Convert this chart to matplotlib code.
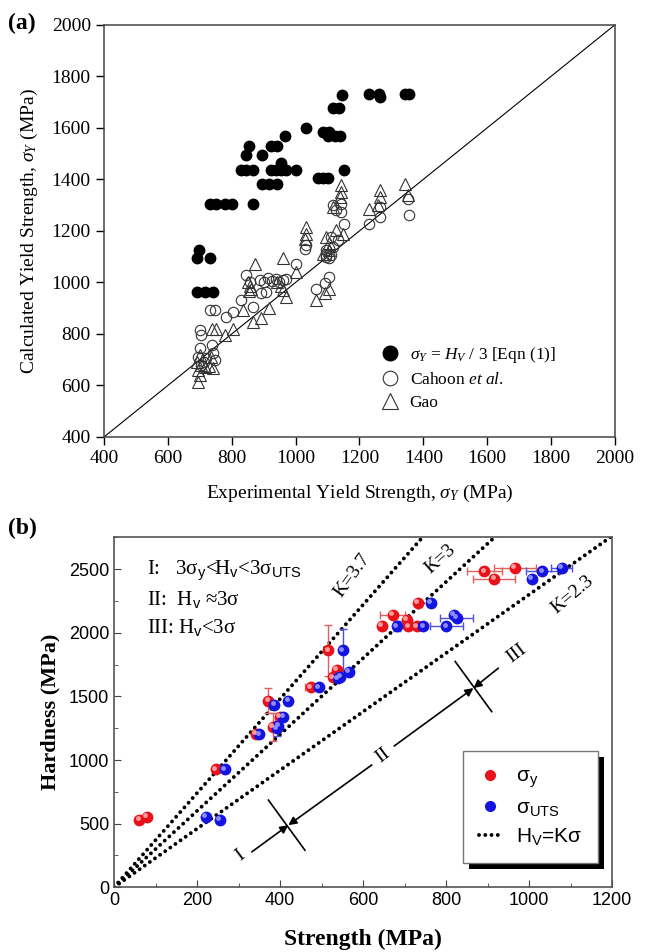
import numpy as np
import matplotlib
matplotlib.use("Agg")
import matplotlib.pyplot as plt
import matplotlib.transforms as mtransforms
from matplotlib.lines import Line2D
from matplotlib.patches import Rectangle

plt.rcParams['font.family'] = ['Liberation Serif', 'DejaVu Serif']
plt.rcParams['mathtext.fontset'] = 'custom'
plt.rcParams['mathtext.rm'] = 'Liberation Serif'
plt.rcParams['mathtext.it'] = 'Liberation Serif:italic'
plt.rcParams['mathtext.bf'] = 'Liberation Serif:bold'
plt.rcParams['mathtext.sf'] = 'Liberation Sans'

# ---- panel (a): calculated vs experimental yield strength (MPa) ----
eqn_x = [698, 691, 733, 691, 716, 742, 733, 752, 778, 802, 865, 895, 916, 943,
         830, 846, 867, 922, 940, 955, 971, 1002, 1070, 1085, 1101, 1153, 955,
         846, 896, 854, 922, 941, 966, 1033, 1085, 1104, 1101, 1122, 1140,
         1117, 1135, 1145, 1229, 1260, 1265, 1341, 1356]
eqn_y = [1127, 1096, 1096, 962, 962, 962, 1306, 1306, 1306, 1306, 1306, 1381, 1381, 1381,
         1437, 1437, 1437, 1437, 1437, 1437, 1437, 1437, 1407, 1407, 1407, 1437, 1463,
         1493, 1493, 1528, 1528, 1528, 1567, 1600, 1583, 1583, 1567, 1567, 1567,
         1678, 1678, 1726, 1732, 1732, 1719, 1732, 1732]

cahoon_x = [731, 747, 783, 804, 700, 705, 700, 737, 695, 742, 747, 712, 846, 856, 830,
            867, 888, 900, 912, 925, 937, 948, 960, 893, 908, 971, 1002, 1065, 1091,
            1106, 1096, 1111, 1117, 1127, 1143, 1143, 1153, 1111, 1132, 1117, 1096,
            1096, 1106, 1033, 1028, 1231, 1263, 1263, 1356, 1351, 720, 705]
cahoon_y = [892, 892, 866, 886, 815, 795, 744, 757, 711, 724, 698, 690, 1028, 1002, 931,
            905, 1010, 1000, 1016, 1004, 1012, 1000, 1010, 957, 963, 1015, 1073, 976, 996,
            1021, 1099, 1105, 1299, 1280, 1306, 1273, 1228, 1176, 1164, 1138, 1125,
            1105, 1093, 1144, 1131, 1228, 1254, 1293, 1260, 1325, 705, 680]

gao_x = [695, 700, 695, 690, 705, 715, 728, 740, 700, 735, 737, 752, 804, 778, 835,
         872, 851, 856, 853, 860, 867, 893, 918, 960, 1002, 960, 971, 1065, 1091,
         1106, 1033, 1033, 1028, 1143, 1143, 1138, 1117, 1096, 1106, 1127, 1148,
         1263, 1263, 1231, 1257, 1341, 1351, 1106, 1085, 943, 955]
gao_y = [614, 640, 660, 690, 680, 672, 676, 668, 720, 710, 821, 821, 821, 795, 892,
         1073, 1002, 985, 965, 975, 847, 860, 899, 1093, 1041, 970, 944, 931, 957,
         976, 1215, 1189, 1170, 1377, 1351, 1331, 1293, 1176, 1151, 1202, 1189,
         1357, 1331, 1286, 1299, 1383, 1338, 1125, 1112, 1000, 985]

# ---- panel (b): hardness vs strength (MPa) ----
ys_x = [61, 79, 246, 342, 372, 382, 400, 474, 516, 527, 537, 645, 671, 705, 709, 729, 732, 892, 916, 966]
ys_y = [528, 553, 927, 1205, 1467, 1260, 1341, 1570, 1861, 1650, 1709, 2055, 2142, 2102, 2050, 2050, 2233, 2483, 2422, 2509]
ys_xerr = [0, 0, 0, 0, 0, 0, 0, 15, 0, 0, 0, 0, 30, 0, 0, 0, 0, 42, 50, 50]
ys_yerr = [0, 0, 0, 0, 95, 110, 0, 0, 200, 0, 0, 30, 0, 0, 0, 0, 0, 0, 0, 0]

uts_x = [222, 255, 267, 350, 386, 420, 393, 408, 396, 494, 551, 540, 545, 565, 681, 745, 763, 801, 818, 826, 1006, 1032, 1079]
uts_y = [553, 528, 927, 1202, 1433, 1467, 1250, 1341, 1268, 1570, 1861, 1643, 1656, 1695, 2050, 2050, 2233, 2050, 2142, 2116, 2422, 2483, 2509]
uts_xerr = [0, 0, 0, 0, 0, 0, 0, 0, 0, 0, 0, 0, 0, 0, 0, 0, 0, 40, 0, 40, 0, 40, 25]
uts_yerr = [0, 0, 0, 0, 0, 0, 60, 0, 0, 0, 165, 0, 0, 0, 40, 0, 0, 0, 0, 0, 0, 0, 0]

k_values = [3.7, 3.0, 2.3]
k_labels = ['K=3.7', 'K=3', 'K=2.3']

fig = plt.figure(figsize=(6.46, 9.52), dpi=100)

# ================= (a) =================
ax1 = fig.add_axes([0.161, 0.541, 0.791, 0.433])
ax1.plot([400, 2000], [400, 2000], color='k', lw=0.8, zorder=1)
ax1.plot(gao_x, gao_y, '^', ms=8.5, mfc='none', mec='#333333', mew=0.8, ls='none', label='Gao', zorder=2)
ax1.plot(cahoon_x, cahoon_y, 'o', ms=7.5, mfc='none', mec='#333333', mew=0.8, ls='none',
         label=r'Cahoon $et\ al$.', zorder=3)
ax1.plot(eqn_x, eqn_y, 'o', ms=7.5, color='k', ls='none',
         label=r'$\sigma_Y$ = $H_V$ / 3 [Eqn (1)]', zorder=4)
ax1.set_xlim(400, 2000)
ax1.set_ylim(400, 2000)
ax1.set_xticks(np.arange(400, 2001, 200))
ax1.set_yticks(np.arange(400, 2001, 200))
ax1.tick_params(direction='out', length=6, width=1, labelsize=14, top=False, right=False)
for s in ax1.spines.values():
    s.set_color('#444444')
    s.set_linewidth(1.1)
ax1.set_xlabel(r'Experimental Yield Strength, $\sigma_Y$ (MPa)', fontsize=14, labelpad=11)
ax1.set_ylabel(r'Calculated Yield Strength, $\sigma_Y$ (MPa)', fontsize=14, labelpad=8)
h, l = ax1.get_legend_handles_labels()
ax1.legend(h[::-1], l[::-1], loc='upper left', bbox_to_anchor=(0.513, 0.262), frameon=False,
           fontsize=12.5, markerscale=1.4, handlelength=1.0, handletextpad=0.6, labelspacing=0.4)
fig.text(0.012, 0.975, '(a)', fontsize=17, fontweight='bold', va='center')

# ================= (b) =================
ax2 = fig.add_axes([0.1765, 0.068, 0.771, 0.3676])
ax2.set_xlim(0, 1200)
ax2.set_ylim(0, 2750)

xs = np.linspace(0, 1200, 400)
for k in k_values:
    ax2.plot(xs, k * xs, color='k', lw=2.8, ls=(0, (0.01, 1.6)), dash_capstyle='round', zorder=2)

def spheres(x, y, xerr, yerr, base, light, ecol):
    x = np.asarray(x, float)
    y = np.asarray(y, float)
    ax2.errorbar(x, y, xerr=np.asarray(xerr, float), yerr=np.asarray(yerr, float), fmt='none',
                 ecolor=ecol, elinewidth=1.0, capsize=3, capthick=1.0, zorder=3)
    ax2.plot(x, y, 'o', ms=8.5, color=base, mec='none', zorder=4)
    hl = mtransforms.offset_copy(ax2.transData, fig=fig, x=-1.2, y=1.2, units='points')
    ax2.plot(x, y, 'o', ms=3.5, color=light, mec='none', transform=hl, zorder=5)

spheres(ys_x, ys_y, ys_xerr, ys_yerr, '#e8121a', '#ff9a9a', '#e06060')
spheres(uts_x, uts_y, uts_xerr, uts_yerr, '#1414e0', '#8c8cff', '#5050e0')

ax2.set_xticks(np.arange(0, 1201, 200))
ax2.set_xticks(np.arange(0, 1201, 100), minor=True)
ax2.set_yticks(np.arange(0, 2501, 500))
ax2.set_yticks(np.arange(0, 2751, 250), minor=True)
ax2.tick_params(which='both', direction='in', top=False, right=False, color='#444444')
ax2.tick_params(which='major', length=5, labelsize=13)
ax2.tick_params(which='minor', length=3)
for lab in ax2.get_xticklabels() + ax2.get_yticklabels():
    lab.set_family(['Liberation Sans', 'DejaVu Sans'])
for s in ax2.spines.values():
    s.set_color('#555555')
    s.set_linewidth(1.2)
ax2.set_xlabel('Strength (MPa)', fontsize=17, fontweight='bold', labelpad=14)
ax2.set_ylabel('Hardness (MPa)', fontsize=16, fontweight='bold', labelpad=6)
fig.text(0.012, 0.445, '(b)', fontsize=17, fontweight='bold', va='center')

# regime descriptions
ax2.text(79, 2483, r'I:   3σ$_{\mathsf{y}}$<H$_{\mathsf{v}}$<3σ$_{\mathsf{UTS}}$', fontsize=15, va='center')
ax2.text(79, 2260, r'II:  H$_{\mathsf{v}}$ ≈3σ', fontsize=15, va='center')
ax2.text(79, 2039, r'III: H$_{\mathsf{v}}$<3σ', fontsize=15, va='center')

# K labels along the dotted lines
for txt, (tx, ty), rot in zip(k_labels, [(575, 2450), (786, 2580), (1105, 2300)], [54, 42, 40]):
    ax2.text(tx, ty, txt, fontsize=14, rotation=rot, ha='center', va='center')

# regime boundaries with arrows
arrow = dict(arrowstyle='-|>', color='k', lw=1.2, mutation_scale=12, shrinkA=0, shrinkB=0)
ax2.annotate('', xy=(420, 488), xytext=(332, 278), arrowprops=arrow)
ax2.annotate('', xy=(420, 488), xytext=(621, 961), arrowprops=arrow)
ax2.annotate('', xy=(866, 1565), xytext=(675, 1110), arrowprops=arrow)
ax2.annotate('', xy=(866, 1565), xytext=(926, 1722), arrowprops=arrow)
ax2.plot([372, 460], [685, 291], color='k', lw=1.2)
ax2.plot([822, 910], [1774, 1380], color='k', lw=1.2)
ax2.text(304, 252, 'I', fontsize=14, rotation=37, ha='center', va='center')
ax2.text(647, 1036, 'II', fontsize=14, rotation=37, ha='center', va='center')
ax2.text(970, 1840, 'III', fontsize=14, rotation=37, ha='center', va='center')

# legend with a solid drop shadow
hb = [Line2D([], [], marker='o', ms=7, color='#e8121a', ls='none'),
      Line2D([], [], marker='o', ms=7, color='#1414e0', ls='none'),
      Line2D([], [], color='k', lw=2.8, ls=(0, (0.01, 1.6)), dash_capstyle='round')]
lb = [r'σ$_{\mathsf{y}}$', r'σ$_{\mathsf{UTS}}$', r'H$_{\mathsf{V}}$=Kσ']
leg = ax2.legend(hb, lb, loc='lower left', bbox_to_anchor=(0.701, 0.069), fancybox=False,
                 edgecolor='#777777', framealpha=1, handlelength=1.1,
                 handletextpad=0.7, labelspacing=0.4, borderpad=0.75, borderaxespad=0,
                 prop={'family': ['Liberation Sans', 'DejaVu Sans'], 'size': 15})
leg.get_frame().set_linewidth(1.0)
leg.set_zorder(6)
fig.canvas.draw()
bb = leg.get_window_extent()
shadow = Rectangle((bb.x0 + 6, bb.y0 - 6), bb.width, bb.height, transform=None,
                   facecolor='k', edgecolor='none', zorder=5.9, clip_on=False)
ax2.add_artist(shadow)

fig.savefig('out.png', dpi=100)
